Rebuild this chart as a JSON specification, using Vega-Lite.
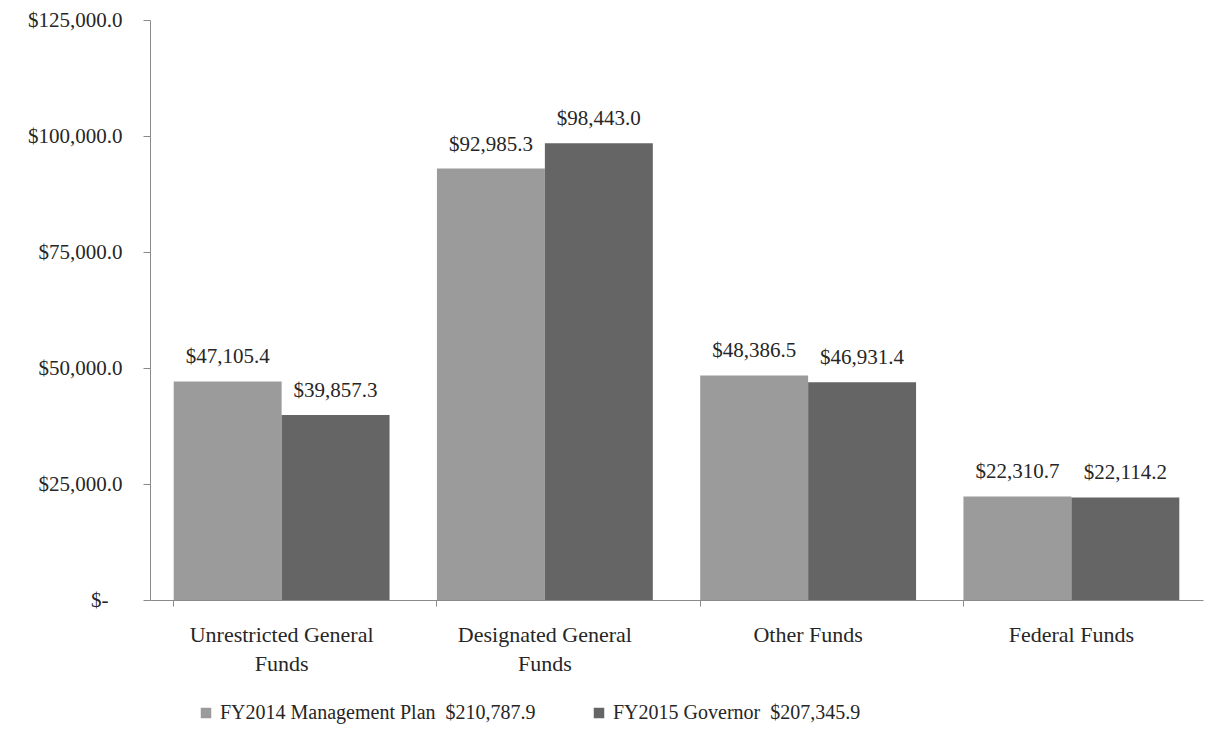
{
  "$schema": "https://vega.github.io/schema/vega-lite/v6.json",
  "autosize": {"type": "none"},
  "padding": {"left": 150, "top": 20, "right": 3, "bottom": 129},
  "width": 1053,
  "height": 580,
  "background": "white",
  "config": {
    "view": {"stroke": null},
    "font": "'Liberation Serif', 'DejaVu Serif', serif",
    "axis": {"labelFont": "'Liberation Serif', 'DejaVu Serif', serif", "labelColor": "#262626", "domainColor": "#8a8a8a", "tickColor": "#8a8a8a", "grid": false, "title": null},
    "legend": {"labelFont": "'Liberation Serif', 'DejaVu Serif', serif", "labelColor": "#262626"}
  },
  "data": {
    "values": [
      {"category": "Unrestricted General Funds", "series": "FY2014 Management Plan\u00a0 $210,787.9", "value": 47105.4, "label": "$47,105.4"},
      {"category": "Unrestricted General Funds", "series": "FY2015 Governor\u00a0 $207,345.9", "value": 39857.3, "label": "$39,857.3"},
      {"category": "Designated General Funds", "series": "FY2014 Management Plan\u00a0 $210,787.9", "value": 92985.3, "label": "$92,985.3"},
      {"category": "Designated General Funds", "series": "FY2015 Governor\u00a0 $207,345.9", "value": 98443.0, "label": "$98,443.0"},
      {"category": "Other Funds", "series": "FY2014 Management Plan\u00a0 $210,787.9", "value": 48386.5, "label": "$48,386.5"},
      {"category": "Other Funds", "series": "FY2015 Governor\u00a0 $207,345.9", "value": 46931.4, "label": "$46,931.4"},
      {"category": "Federal Funds", "series": "FY2014 Management Plan\u00a0 $210,787.9", "value": 22310.7, "label": "$22,310.7"},
      {"category": "Federal Funds", "series": "FY2015 Governor\u00a0 $207,345.9", "value": 22114.2, "label": "$22,114.2"}
    ]
  },
  "encoding": {
    "x": {
      "field": "category", "type": "nominal",
      "sort": ["Unrestricted General Funds", "Designated General Funds", "Other Funds", "Federal Funds"],
      "scale": {"paddingInner": 0.18, "paddingOuter": 0.09},
      "axis": {
        "labelAngle": 0, "labelFontSize": 22, "labelPadding": 18, "tickSize": 6, "bandPosition": 0,
        "labelLineHeight": 29, "labelLimit": 300,
        "labelExpr": "datum.value == 'Unrestricted General Funds' ? ['Unrestricted General', 'Funds'] : datum.value == 'Designated General Funds' ? ['Designated General', 'Funds'] : datum.value"
      }
    },
    "xOffset": {"field": "series", "type": "nominal", "scale": {"paddingInner": 0, "paddingOuter": 0}},
    "y": {
      "field": "value", "type": "quantitative",
      "scale": {"domain": [0, 125000], "nice": false},
      "axis": {
        "values": [0, 25000, 50000, 75000, 100000, 125000],
        "labelFontSize": 21, "tickSize": 7,
        "labelPadding": {"condition": {"test": "datum.value == 0", "value": 35}, "value": 21},
        "labelExpr": "datum.value == 0 ? '$-' : '$' + format(datum.value, ',.1f')"
      }
    }
  },
  "layer": [
    {
      "mark": {"type": "bar"},
      "encoding": {
        "color": {
          "field": "series", "type": "nominal",
          "scale": {"range": ["#9b9b9b", "#656565"]},
          "legend": {
            "title": null, "orient": "none", "direction": "horizontal", "columns": 2,
            "legendX": 46, "legendY": 683, "columnPadding": 53,
            "symbolType": "square", "symbolSize": 110, "symbolStrokeWidth": 0,
            "labelFontSize": 20, "labelOffset": 4, "labelLimit": 500
          }
        }
      }
    },
    {
      "mark": {"type": "text", "baseline": "alphabetic", "dy": -18, "fontSize": 21, "color": "#262626"},
      "encoding": {"text": {"field": "label"}}
    }
  ]
}
